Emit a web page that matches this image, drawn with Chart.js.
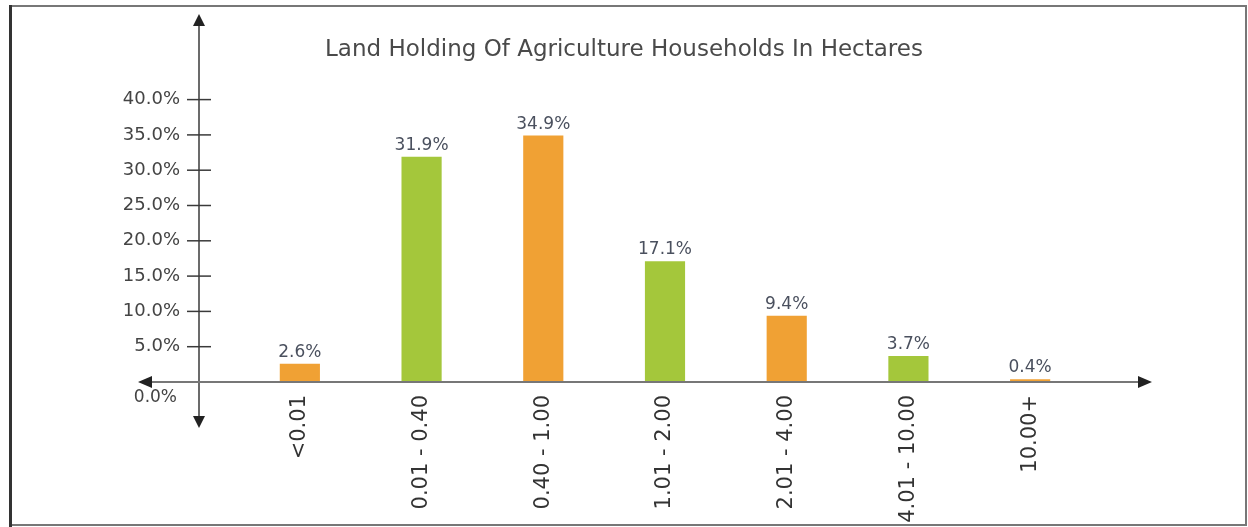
<!DOCTYPE html>
<html>
<head>
<meta charset="utf-8">
<title>Land Holding Of Agriculture Households In Hectares</title>
<script src="https://cdn.jsdelivr.net/npm/chart.js@4.4.1/dist/chart.umd.min.js"></script>
<style>
  html, body { margin: 0; padding: 0; background: #fff; }
  #wrap { position: relative; width: 1248px; height: 527px; }
</style>
</head>
<body>
<div id="wrap"><canvas id="landChart" width="1248" height="527"></canvas></div>
<script>
// Land holding size classes (hectares) and share of households
const categories = ['<0.01', '0.01 - 0.40', '0.40 - 1.00', '1.01 - 2.00', '2.01 - 4.00', '4.01 - 10.00', '10.00+'];
const shares = [2.6, 31.9, 34.9, 17.1, 9.4, 3.7, 0.4];
const barColors = ['#f0a134', '#a4c73b', '#f0a134', '#a4c73b', '#f0a134', '#a4c73b', '#f0a134'];
const yTicks = [0, 5, 10, 15, 20, 25, 30, 35, 40];

const FONT = '"DejaVu Sans", Verdana, sans-serif';
const AXIS_SHIFT = 40; // y axis line sits left of the plot area

// Frame, arrowed axes, tick dashes and value labels
const axesPlugin = {
    id: 'arrowAxes',
    afterDraw(chart) {
        const ctx = chart.ctx;
        const area = chart.chartArea;
        const y = chart.scales.y;
        const x0 = area.left - AXIS_SHIFT;
        const y0 = y.getPixelForValue(0);
        ctx.save();

        // outer frame
        ctx.strokeStyle = '#777';
        ctx.lineWidth = 2;
        ctx.strokeRect(10, 6, 1236, 519);
        ctx.fillStyle = '#333';
        ctx.fillRect(9, 5, 3, 522);

        // vertical axis with arrows
        ctx.strokeStyle = '#3a3a3a';
        ctx.lineWidth = 1.5;
        ctx.beginPath();
        ctx.moveTo(x0, 22);
        ctx.lineTo(x0, 420);
        ctx.stroke();
        ctx.fillStyle = '#222';
        ctx.beginPath();
        ctx.moveTo(x0, 14); ctx.lineTo(x0 - 6, 26); ctx.lineTo(x0 + 6, 26); ctx.closePath(); ctx.fill();
        ctx.beginPath();
        ctx.moveTo(x0, 428); ctx.lineTo(x0 - 6, 416); ctx.lineTo(x0 + 6, 416); ctx.closePath(); ctx.fill();

        // horizontal axis with arrows
        ctx.strokeStyle = '#777';
        ctx.lineWidth = 2;
        ctx.beginPath();
        ctx.moveTo(146, y0);
        ctx.lineTo(1144, y0);
        ctx.stroke();
        ctx.beginPath();
        ctx.moveTo(138, y0); ctx.lineTo(152, y0 - 6); ctx.lineTo(152, y0 + 6); ctx.closePath(); ctx.fill();
        ctx.beginPath();
        ctx.moveTo(1152, y0); ctx.lineTo(1138, y0 - 6); ctx.lineTo(1138, y0 + 6); ctx.closePath(); ctx.fill();

        // tick dashes
        ctx.strokeStyle = '#3a3a3a';
        ctx.lineWidth = 1.5;
        yTicks.slice(1).forEach(v => {
            const py = y.getPixelForValue(v);
            ctx.beginPath();
            ctx.moveTo(x0 - 12, py);
            ctx.lineTo(x0 + 12, py);
            ctx.stroke();
        });

        // zero label sits under the axis
        ctx.fillStyle = '#444';
        ctx.font = '17px ' + FONT;
        ctx.textAlign = 'right';
        ctx.textBaseline = 'middle';
        ctx.fillText('0.0%', x0 - 22, y0 + 16);

        // value labels
        const meta = chart.getDatasetMeta(0);
        ctx.fillStyle = '#4a505e';
        ctx.font = '17px ' + FONT;
        ctx.textAlign = 'center';
        ctx.textBaseline = 'bottom';
        meta.data.forEach((bar, i) => {
            ctx.fillText(shares[i].toFixed(1) + '%', bar.x, bar.y - 3);
        });
        ctx.restore();
    }
};

new Chart(document.getElementById('landChart'), {
    type: 'bar',
    data: {
        labels: categories,
        datasets: [{
            data: shares,
            backgroundColor: barColors,
            barPercentage: 0.33,
            categoryPercentage: 1
        }]
    },
    options: {
        responsive: false,
        animation: false,
        layout: { padding: 0 },
        plugins: {
            legend: { display: false },
            tooltip: { enabled: false },
            title: {
                display: true,
                text: 'Land Holding Of Agriculture Households In Hectares',
                color: '#4a4a4a',
                font: { family: FONT, size: 23, weight: 'normal' },
                padding: { top: 36, bottom: 36 }
            }
        },
        scales: {
            x: {
                border: { display: false },
                grid: { display: false, drawTicks: false },
                ticks: {
                    color: '#333',
                    font: { family: FONT, size: 21 },
                    minRotation: 90,
                    maxRotation: 90,
                    padding: 13,
                    autoSkip: false
                },
                afterFit: s => { s.height = 145; }
            },
            y: {
                min: 0,
                max: 40,
                border: { display: false },
                grid: { display: false, drawTicks: false },
                afterBuildTicks: s => { s.ticks = yTicks.map(v => ({ value: v })); },
                ticks: {
                    color: '#444',
                    font: { family: FONT, size: 18 },
                    padding: 59,
                    callback: v => v === 0 ? '' : v.toFixed(1) + '%'
                },
                afterFit: s => { s.width = 239; }
            },
            // empty right-hand axis keeps the plot clear of the right edge
            spacer: {
                type: 'linear',
                position: 'right',
                border: { display: false },
                grid: { display: false, drawTicks: false },
                ticks: { display: false },
                afterFit: s => { s.width = 157; }
            }
        }
    },
    plugins: [axesPlugin]
});
</script>
</body>
</html>
